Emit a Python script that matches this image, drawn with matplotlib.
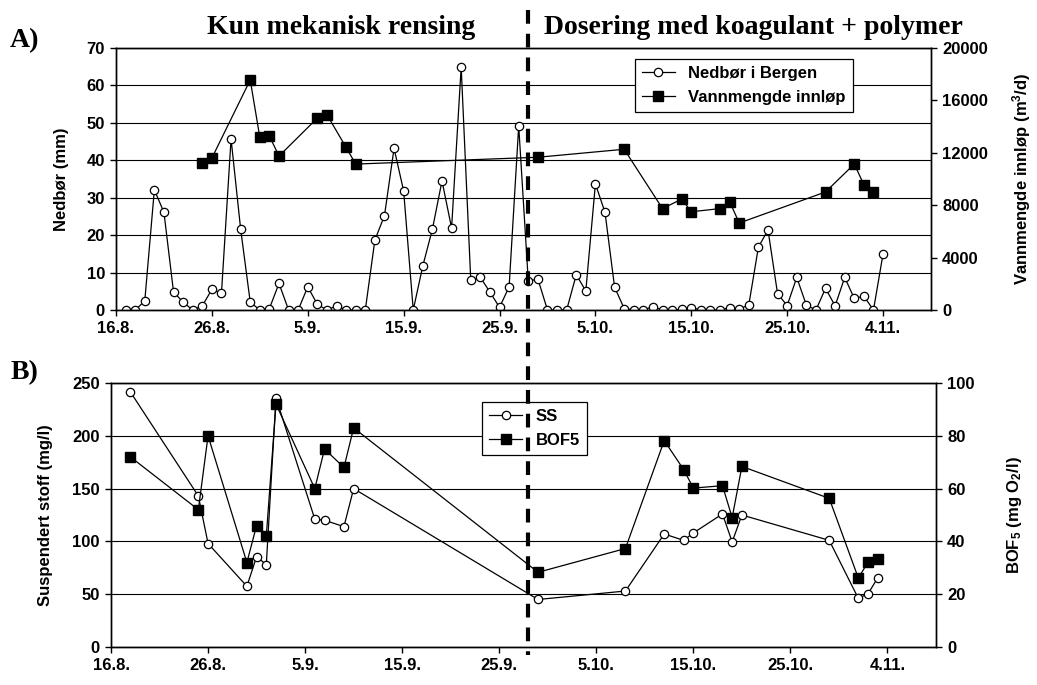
import matplotlib
matplotlib.use('Agg')
import matplotlib.pyplot as plt
from matplotlib.lines import Line2D

plt.rcParams['font.family'] = ['Liberation Sans', 'DejaVu Sans']
plt.rcParams['font.weight'] = 'bold'
plt.rcParams['axes.labelweight'] = 'bold'
plt.rcParams['font.size'] = 12
plt.rcParams['mathtext.fontset'] = 'custom'
plt.rcParams['mathtext.rm'] = 'Liberation Sans:bold'
plt.rcParams['mathtext.default'] = 'rm'
plt.rcParams['axes.linewidth'] = 1.0

# x in days after 16.8.
tick_days = [0, 10, 20, 30, 40, 50, 60, 70, 80]
tick_labels = ['16.8.', '26.8.', '5.9.', '15.9.', '25.9.', '5.10.', '15.10.', '25.10.', '4.11.']
switch_day = 43

# A) daily precipitation in Bergen (mm)
rain_days = list(range(1, 81))
rain_mm = [0, 0, 2.4, 32.1, 26.1, 4.8, 2.1, 0, 1.1, 5.5,
           4.5, 45.7, 21.6, 2.1, 0, 0.4, 7.1, 0, 0, 6.2,
           1.5, 0, 1.1, 0, 0, 0, 18.7, 25.2, 43.2, 31.8,
           0, 11.8, 21.6, 34.5, 21.9, 64.9, 7.9, 8.7, 4.8, 0.7,
           6.2, 49.2, 7.7, 8.3, 0, 0, 0, 9.4, 5.1, 33.7,
           26.1, 6.1, 0.4, 0, 0, 0.9, 0, 0, 0.2, 0.6,
           0, 0, 0, 0.6, 0.2, 1.4, 16.8, 21.4, 4.3, 1.2,
           8.7, 1.3, 0, 5.8, 1.1, 8.7, 3.1, 3.7, 0, 15.0]

# A) inflow (m3/d)
flow_days = [9, 10, 14, 15, 16, 17, 21, 22, 24, 25, 44, 53, 57, 59, 60, 63, 64, 65, 74, 77, 78, 79]
flow_m3d = [11240, 11600, 17560, 13180, 13280, 11750, 14650, 14910, 12410, 11140,
            11660, 12270, 7740, 8470, 7500, 7740, 8270, 6640, 9010, 11140, 9560, 9010]

# B) suspended solids (mg/l) and BOF5 (mg O2/l)
sample_days = [2, 9, 10, 14, 15, 16, 17, 21, 22, 24, 25, 44, 53, 57, 59, 60, 63, 64, 65, 74, 77, 78, 79]
ss = [241.5, 143, 98, 57.5, 85.5, 78, 236, 121, 120, 114, 150,
      45, 53, 107, 101, 108, 126, 99.5, 125, 101, 46, 50.5, 65.5]
bof5 = [72, 52, 80, 32, 46, 42, 92, 60, 75, 68, 83,
        28.3, 37.3, 78.2, 67.2, 60.2, 61.1, 49, 68.4, 56.3, 26.1, 32.2, 33.5]

W, H = 1037, 685
fig = plt.figure(figsize=(W / 100, H / 100), dpi=100)
ax1 = fig.add_axes([116 / W, 1 - 310 / H, (931 - 116) / W, 262 / H])
ax1r = ax1.twinx()
ax2 = fig.add_axes([111 / W, 1 - 647 / H, (936 - 111) / W, 264 / H])
ax2r = ax2.twinx()

circ = dict(marker='o', ms=6, mfc='white', mec='black', mew=0.9, color='black', lw=0.9)
sq = dict(marker='s', ms=6.5, mfc='black', mec='black', color='black', lw=0.9)

l1, = ax1.plot(rain_days, rain_mm, **circ)
l2, = ax1r.plot(flow_days, flow_m3d, **sq)

l3, = ax2.plot(sample_days, ss, **circ)
l4, = ax2r.plot(sample_days, bof5, **sq)

for ax in (ax1, ax2):
    ax.set_xlim(0, 85)
    ax.set_xticks(tick_days)
    ax.set_xticklabels(tick_labels)
    ax.yaxis.grid(True, color='black', lw=0.8)
    ax.set_axisbelow(True)

ax1.set_ylim(0, 70)
ax1.set_yticks(range(0, 71, 10))
ax1r.set_ylim(0, 20000)
ax1r.set_yticks(range(0, 20001, 4000))
ax2.set_ylim(0, 250)
ax2.set_yticks(range(0, 251, 50))
ax2r.set_ylim(0, 100)
ax2r.set_yticks(range(0, 101, 20))

for ax in (ax1, ax1r, ax2, ax2r):
    ax.tick_params(direction='out', length=4, width=1, pad=4)
    for s in ax.spines.values():
        s.set_linewidth(1.0)

ax1.set_ylabel('Nedbør (mm)')
ax1.yaxis.set_label_coords(-0.058, 0.5)
ax1r.set_ylabel('Vannmengde innløp (m$^3$/d)')
ax1r.yaxis.set_label_coords(1.097, 0.5)
ax2.set_ylabel('Suspendert stoff (mg/l)')
ax2.yaxis.set_label_coords(-0.070, 0.5)
ax2r.set_ylabel('BOF$_5$ (mg O$_2$/l)')
ax2r.yaxis.set_label_coords(1.084, 0.5)

leg_kw = dict(loc='upper left', frameon=True, fancybox=False, edgecolor='black',
              framealpha=1, labelspacing=0.55, handlelength=2.0, borderaxespad=0)
leg1 = ax1r.legend([l1, l2], ['Nedbør i Bergen', 'Vannmengde innløp'],
                   bbox_to_anchor=(0.637, 0.958), **leg_kw)
leg1.get_frame().set_linewidth(0.9)
leg2 = ax2r.legend([l3, l4], ['SS', 'BOF5'], bbox_to_anchor=(0.45, 0.928), **leg_kw)
leg2.get_frame().set_linewidth(0.9)

# vertical dashed separator across both panels
xd = fig.transFigure.inverted().transform(ax1.transData.transform((switch_day, 0)))[0]
fig.add_artist(Line2D([xd, xd], [1 - 10 / H, 1 - 655 / H], transform=fig.transFigure,
                      color='black', lw=3, linestyle=(0, (3.3, 2.4))))

serif = ['Liberation Serif', 'DejaVu Serif']
fig.text(341 / W, 1 - 34 / H, 'Kun mekanisk rensing', ha='center', va='baseline',
         family=serif, fontsize=20, fontweight='bold')
fig.text(753 / W, 1 - 34 / H, 'Dosering med koagulant + polymer', ha='center', va='baseline',
         family=serif, fontsize=20, fontweight='bold')
fig.text(10 / W, 1 - 47 / H, 'A)', ha='left', va='baseline', family=serif, fontsize=20, fontweight='bold')
fig.text(11 / W, 1 - 379 / H, 'B)', ha='left', va='baseline', family=serif, fontsize=20, fontweight='bold')

fig.savefig('out.png', dpi=100)
